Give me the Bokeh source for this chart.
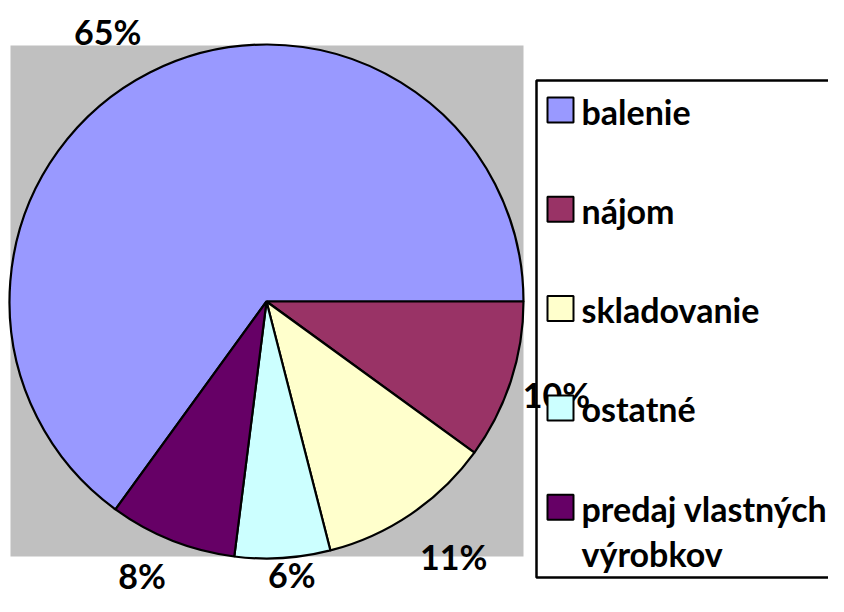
import math
from bokeh.plotting import figure
from bokeh.models import Range1d
from bokeh.core.properties import value
from bokeh.embed import file_html
from bokeh.resources import INLINE

# ---- data ----
categories = ["balenie", "nájom", "skladovanie", "ostatné", "predaj vlastných výrobkov"]
legend_lines = [["balenie"], ["nájom"], ["skladovanie"], ["ostatné"], ["predaj vlastných", "výrobkov"]]
shares = [65, 10, 11, 6, 8]
pct_labels = ["65%", "10%", "11%", "6%", "8%"]
colors = ["#9999FF", "#993366", "#FFFFCC", "#CCFFFF", "#660066"]

# ---- layout (pixel coordinates of the picture, y downward) ----
PW, PH = 828, 596
H = 612
def Y(y):
    return H - y

cx, cy, R = 266, 301, 257
label_r = 308
label_nudge = [(-19, 4), (-3, -2), (14, 0), (6, -34), (-11, -12)]
FONT = value("Lato")
FS_LAB = "34px"
FS_LEG = "34px"

p = figure(width=PW, height=PH, x_range=Range1d(0, PW), y_range=Range1d(H - PH, H),
           output_backend="svg", toolbar_location=None,
           x_axis_location=None, y_axis_location=None, min_border=0)
p.outline_line_color = None
p.xgrid.grid_line_color = None
p.ygrid.grid_line_color = None
p.background_fill_color = "white"
p.border_fill_color = "white"

# plot area background
p.quad(left=cx - R + 1, right=cx + R, top=Y(cy - R + 1), bottom=Y(cy + R - 2),
       fill_color="#C0C0C0", line_color=None)

# wedges (clockwise, balenie ending at 3 o'clock)
total = float(sum(shares))
offset = shares[0] / total * 2 * math.pi
starts, ends, mids = [], [], []
cum = 0.0
for s in shares:
    a0 = offset - cum / total * 2 * math.pi
    cum += s
    a1 = offset - cum / total * 2 * math.pi
    starts.append(a0)
    ends.append(a1)
    mids.append((a0 + a1) / 2)

p.wedge(x=[cx] * len(shares), y=[Y(cy)] * len(shares), radius=R,
        start_angle=starts, end_angle=ends, direction="clock",
        fill_color=colors, line_color="black", line_width=2.2)

# legend box
p.quad(left=536, right=860, top=Y(80), bottom=Y(577),
       fill_color=None, line_color="black", line_width=2.5)

# percentage labels
lx, ly = [], []
for m, (dx, dy) in zip(mids, label_nudge):
    lx.append(cx + label_r * math.cos(m) + dx)
    ly.append(Y(cy - label_r * math.sin(m) + dy))
p.text(x=lx, y=ly, text=pct_labels, text_font=FONT, text_font_style="bold",
       text_font_size=FS_LAB, text_align="center", text_baseline="middle", text_color="black")

# legend entries
row0, step, line_gap = 109.5, 99.3, 45
sq_x, sq_w, sq_h = 560, 26, 25
for i, (lines, col) in enumerate(zip(legend_lines, colors)):
    yc = row0 + i * step
    p.rect(x=[sq_x], y=[Y(yc)], width=sq_w, height=sq_h,
           fill_color=col, line_color="black", line_width=2)
    for j, t in enumerate(lines):
        p.text(x=[581], y=[Y(yc + 1 + j * line_gap)], text=[t], text_font=FONT,
               text_font_style="bold", text_font_size=FS_LEG, text_align="left",
               text_baseline="middle", text_color="black")

open("out.html", "w").write(file_html(p, INLINE))
